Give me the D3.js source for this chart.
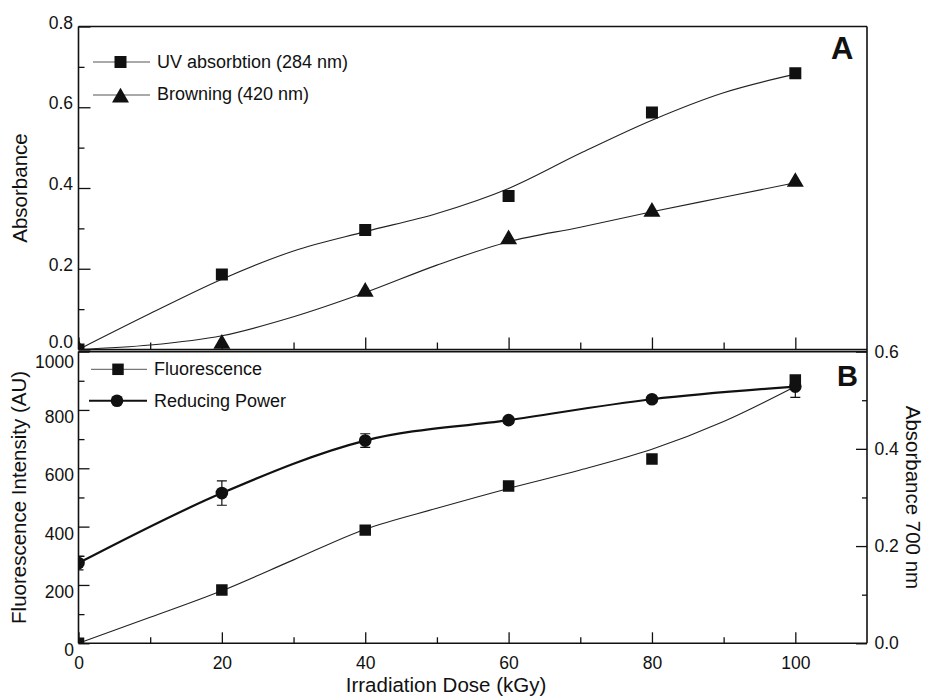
<!DOCTYPE html>
<html>
<head>
<meta charset="utf-8">
<script src="https://cdn.jsdelivr.net/npm/d3@7"></script>
<style>
  body { margin: 0; background: #fff; }
  svg { display: block; }
</style>
</head>
<body>
<svg id="chart" width="925" height="697"></svg>
<script>
// irradiation doses (kGy) where the samples were measured
const doses = [0, 20, 40, 60, 80, 100];
const fitDoses = [0, 10, 20, 30, 40, 50, 60, 70, 80, 90, 100];

// panel A: absorbance
const uvAbs = [0.0, 0.186, 0.296, 0.380, 0.587, 0.684];
const browning = [0.0, 0.014, 0.143, 0.273, 0.341, 0.415];
const uvFit = [0, 0.089, 0.174, 0.244, 0.292, 0.337, 0.399, 0.486, 0.568, 0.636, 0.682];
const browningFit = [0, 0.011, 0.034, 0.081, 0.141, 0.209, 0.267, 0.303, 0.341, 0.377, 0.413];

// panel B: fluorescence (left axis) and reducing power (right axis)
const fluorescence = [0, 183, 388, 539, 632, 903];
const fluorescenceFit = [0, 89, 180, 286, 391, 463, 531, 594, 665, 760, 880];
const reducingPower = [0.165, 0.309, 0.417, 0.459, 0.502, 0.528];
const reducingPowerErr = [0.014, 0.025, 0.014, 0.006, 0.006, 0.022];

// ticks
const doseTicks = [0, 20, 40, 60, 80, 100];
const doseMinor = [10, 30, 50, 70, 90];
const absTicks = [0, 0.2, 0.4, 0.6, 0.8];
const absMinor = [0.1, 0.3, 0.5, 0.7];
const fluoTicks = [0, 200, 400, 600, 800, 1000];
const fluoMinor = [100, 300, 500, 700, 900];
const rpTicks = [0, 0.2, 0.4, 0.6];
const rpMinor = [0.1, 0.3, 0.5];

const font = '"Liberation Sans", Arial, Helvetica, sans-serif';
const ink = "#111";

const svg = d3.select("#chart")
              .attr("font-family", font);

const frame = {left: 78.5, right: 867, topA: 26.5, bottomA: 349.5, topB: 351.6, bottomB: 643.3};

const x = d3.scaleLinear()
            .domain([0, 110])
            .range([frame.left, frame.right]);

const yA = d3.scaleLinear()
             .domain([0, 0.8])
             .range([frame.bottomA, frame.topA]);

const yB = d3.scaleLinear()
             .domain([0, 1000])
             .range([frame.bottomB, frame.topB]);

const yR = d3.scaleLinear()
             .domain([0, 0.6])
             .range([frame.bottomB, frame.topB]);

// clip areas so markers sitting on an axis get cut like in the figure
const defs = svg.append("defs");
defs.append("clipPath").attr("id", "clipA")
    .append("rect")
    .attr("x", frame.left).attr("y", frame.topA)
    .attr("width", frame.right - frame.left).attr("height", frame.bottomA - frame.topA);
defs.append("clipPath").attr("id", "clipB")
    .append("rect")
    .attr("x", frame.left).attr("y", frame.topB)
    .attr("width", frame.right - frame.left).attr("height", frame.bottomB - frame.topB);

// one axis = minor ticks + major ticks with labels, all pointing inward
function drawAxis(axisFn, scale, translate, major, minor, fmt, opts) {
    const g = svg.append("g")
                 .attr("transform", translate)
                 .style("color", ink);

    g.append("g")
     .call(axisFn(scale).tickValues(minor).tickSizeInner(-opts.short).tickSizeOuter(0).tickFormat(""))
     .call(a => a.select(".domain").remove());

    const m = g.append("g")
               .call(axisFn(scale).tickValues(major).tickSizeInner(-opts.long).tickSizeOuter(0)
                                  .tickPadding(opts.pad).tickFormat(fmt))
               .call(a => a.select(".domain").remove());

    g.selectAll("line").attr("stroke-width", 1.3);
    m.attr("font-family", font).attr("font-size", 17.5);
    m.selectAll("text").attr("fill", ink);
    if (opts.shift) m.selectAll("text").attr("y", opts.shift);
    return m;
}

// panel A axes
drawAxis(d3.axisLeft, yA, `translate(${frame.left},0)`, absTicks, absMinor, d3.format(".1f"),
         {long: 12, short: 6, pad: 5.5, shift: d => d === 0 ? -8 : -4});
drawAxis(d3.axisBottom, x, `translate(0,${frame.bottomA})`, doseTicks, doseMinor, "",
         {long: 12, short: 7, pad: 0});

// panel B axes
drawAxis(d3.axisLeft, yB, `translate(${frame.left},0)`, fluoTicks, fluoMinor, d3.format("d"),
         {long: 11, short: 6, pad: 4.5, shift: d => d === 1000 ? 10 : 7});
drawAxis(d3.axisRight, yR, `translate(${frame.right},0)`, rpTicks, rpMinor, d3.format(".1f"),
         {long: 11, short: 5, pad: 7.5});
drawAxis(d3.axisBottom, x, `translate(0,${frame.bottomB})`, doseTicks, doseMinor, d3.format("d"),
         {long: 11, short: 6, pad: 13.5});

// frame lines
const frameLines = [
    [frame.left, frame.topA, frame.right, frame.topA],
    [frame.left, frame.topA, frame.left, frame.bottomA],
    [frame.left, frame.bottomA, frame.right, frame.bottomA],
    [frame.left, frame.topB, frame.right, frame.topB],
    [frame.left, frame.topB, frame.left, frame.bottomB],
    [frame.left, frame.bottomB, frame.right, frame.bottomB],
    [frame.right, frame.topA, frame.right, frame.bottomB]
];
svg.append("g")
   .selectAll("line")
   .data(frameLines)
   .join("line")
      .attr("x1", d => d[0]).attr("y1", d => d[1])
      .attr("x2", d => d[2]).attr("y2", d => d[3])
      .attr("stroke", ink)
      .attr("stroke-width", 1.6);

const square = d3.symbol().type(d3.symbolSquare).size(144);
const squareB = d3.symbol().type(d3.symbolSquare).size(132);
const triangle = d3.symbol().type(d3.symbolTriangle).size(125);
const circle = d3.symbol().type(d3.symbolCircle).size(125);

// ---------- panel A ----------
const panelA = svg.append("g").attr("clip-path", "url(#clipA)");

const fitLineA = d3.line()
                   .x((d, i) => x(fitDoses[i]))
                   .y(d => yA(d))
                   .curve(d3.curveMonotoneX);

panelA.append("path")
      .datum(uvFit)
      .attr("fill", "none")
      .attr("stroke", "#222")
      .attr("stroke-width", 1.1)
      .attr("d", fitLineA);

panelA.append("path")
      .datum(browningFit)
      .attr("fill", "none")
      .attr("stroke", "#222")
      .attr("stroke-width", 1.1)
      .attr("d", fitLineA);

panelA.selectAll(".uv")
      .data(uvAbs)
      .join("path")
         .attr("class", "uv")
         .attr("transform", (d, i) => `translate(${x(doses[i])},${yA(d)})`)
         .attr("fill", ink)
         .attr("d", square);

panelA.selectAll(".brown")
      .data(browning)
      .join("path")
         .attr("class", "brown")
         .attr("transform", (d, i) => `translate(${x(doses[i])},${yA(d)})`)
         .attr("fill", ink)
         .attr("d", triangle);

// ---------- panel B ----------
const panelB = svg.append("g").attr("clip-path", "url(#clipB)");

const fitLineB = d3.line()
                   .x((d, i) => x(fitDoses[i]))
                   .y(d => yB(d))
                   .curve(d3.curveMonotoneX);

const rpLine = d3.line()
                 .x((d, i) => x(doses[i]))
                 .y(d => yR(d))
                 .curve(d3.curveMonotoneX);

panelB.append("path")
      .datum(fluorescenceFit)
      .attr("fill", "none")
      .attr("stroke", "#222")
      .attr("stroke-width", 1.1)
      .attr("d", fitLineB);

panelB.append("path")
      .datum(reducingPower)
      .attr("fill", "none")
      .attr("stroke", ink)
      .attr("stroke-width", 2.2)
      .attr("d", rpLine);

// error bars for reducing power
const errBars = panelB.selectAll(".err")
                      .data(reducingPower)
                      .join("g")
                         .attr("class", "err")
                         .attr("stroke", ink)
                         .attr("stroke-width", 1.2);
errBars.append("line")
       .attr("x1", (d, i) => x(doses[i])).attr("x2", (d, i) => x(doses[i]))
       .attr("y1", (d, i) => yR(d - reducingPowerErr[i]))
       .attr("y2", (d, i) => yR(d + reducingPowerErr[i]));
errBars.append("line")
       .attr("x1", (d, i) => x(doses[i]) - 5).attr("x2", (d, i) => x(doses[i]) + 5)
       .attr("y1", (d, i) => yR(d - reducingPowerErr[i]))
       .attr("y2", (d, i) => yR(d - reducingPowerErr[i]));
errBars.append("line")
       .attr("x1", (d, i) => x(doses[i]) - 5).attr("x2", (d, i) => x(doses[i]) + 5)
       .attr("y1", (d, i) => yR(d + reducingPowerErr[i]))
       .attr("y2", (d, i) => yR(d + reducingPowerErr[i]));

panelB.selectAll(".fluo")
      .data(fluorescence)
      .join("path")
         .attr("class", "fluo")
         .attr("transform", (d, i) => `translate(${x(doses[i])},${yB(d)})`)
         .attr("fill", ink)
         .attr("d", squareB);

panelB.selectAll(".rp")
      .data(reducingPower)
      .join("path")
         .attr("class", "rp")
         .attr("transform", (d, i) => `translate(${x(doses[i])},${yR(d)})`)
         .attr("fill", ink)
         .attr("d", circle);

// ---------- legends ----------
const legendItems = [
    {label: "UV absorbtion (284 nm)", sym: square, y: 62, base: 67.5, x1: 93, x2: 150, w: 1, tx: 157},
    {label: "Browning (420 nm)", sym: triangle, y: 95, base: 99.5, x1: 93, x2: 150, w: 1, tx: 157},
    {label: "Fluorescence", sym: squareB, y: 369.3, base: 375, x1: 91, x2: 147, w: 1, tx: 154},
    {label: "Reducing Power", sym: circle, y: 400.7, base: 406.5, x1: 89, x2: 147, w: 2, tx: 154}
];

const legend = svg.append("g").attr("class", "legend");
legendItems.forEach(item => {
    const cx = (item.x1 + item.x2) / 2 - 1;
    legend.append("line")
          .attr("x1", item.x1).attr("x2", item.x2)
          .attr("y1", item.y).attr("y2", item.y)
          .attr("stroke", item.w > 1 ? ink : "#555")
          .attr("stroke-width", item.w);
    legend.append("path")
          .attr("transform", `translate(${cx},${item.sym === triangle ? item.y + 2.5 : item.y})`)
          .attr("fill", ink)
          .attr("d", item.sym);
    legend.append("text")
          .attr("x", item.tx)
          .attr("y", item.base)
          .attr("font-size", 18)
          .attr("fill", ink)
          .text(item.label);
});

// panel letters
svg.append("text")
   .attr("x", 831).attr("y", 58.5)
   .attr("font-size", 31).attr("font-weight", "bold")
   .attr("fill", ink)
   .text("A");

svg.append("text")
   .attr("x", 837).attr("y", 385.7)
   .attr("font-size", 29).attr("font-weight", "bold")
   .attr("fill", ink)
   .text("B");

// axis titles
svg.append("text")
   .attr("transform", `translate(27,${(frame.topA + frame.bottomA) / 2}) rotate(-90)`)
   .attr("text-anchor", "middle")
   .attr("font-size", 20.5)
   .attr("fill", ink)
   .text("Absorbance");

svg.append("text")
   .attr("transform", `translate(26,${(frame.topB + frame.bottomB) / 2}) rotate(-90)`)
   .attr("text-anchor", "middle")
   .attr("font-size", 20.5)
   .attr("fill", ink)
   .text("Fluorescence Intensity (AU)");

svg.append("text")
   .attr("transform", `translate(906,${(frame.topB + frame.bottomB) / 2}) rotate(90)`)
   .attr("text-anchor", "middle")
   .attr("font-size", 20.5)
   .attr("fill", ink)
   .text("Absorbance 700 nm");

svg.append("text")
   .attr("x", 446)
   .attr("y", 692)
   .attr("text-anchor", "middle")
   .attr("font-size", 20.5)
   .attr("fill", ink)
   .text("Irradiation Dose (kGy)");
</script>
</body>
</html>
